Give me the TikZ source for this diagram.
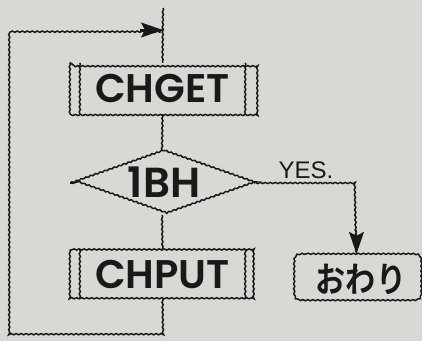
\documentclass[tikz,border=0pt]{standalone}
\usepackage{fontspec}
\setmainfont{Poppins SemiBold}
\newfontfamily\jpfont{Noto Sans CJK JP Bold}
\newfontfamily\yesfont{Liberation Sans}
\usetikzlibrary{decorations.pathmorphing,shapes.geometric,arrows.meta}
\definecolor{bgc}{RGB}{216,216,212}
\definecolor{ink}{RGB}{25,25,25}
\tikzset{
  ln/.style={draw=ink, line width=1.5pt, decorate, decoration={snake, amplitude=0.6pt, segment length=5pt}},
  proc/.style={inner sep=0pt, minimum width=185pt, minimum height=51pt, font=\fontsize{40}{40}\selectfont, text=ink},
  tip/.style={draw=ink, fill=ink, line width=1.3pt, -{Stealth[length=22pt,width=15pt,inset=4pt]}},
}
\begin{document}
\begin{tikzpicture}[x=1pt,y=-1pt]
\fill[bgc] (0,0) rectangle (422,341);
\useasboundingbox (0,0) rectangle (422,341);

\node[proc] (chget) at (162.5,88.5) {CHGET};
\node[shape=diamond, inner sep=0pt, minimum width=183pt, minimum height=64pt] (dec) at (162,183) {};
\node[font=\fontsize{42}{42}\selectfont, text=ink] (dtxt) at (164,182) {1BH};
\node[proc, minimum height=48pt] (chput) at (162.5,274) {CHPUT};
\node[inner sep=0pt, minimum width=127pt, minimum height=46pt, text=ink] (end) at (356.5,277) {};
\node[font=\jpfont\fontsize{35}{35}\selectfont, text=ink] (endtxt) at (361,279) {\scalebox{0.86}[1]{おわり}};
\node[font=\yesfont\fontsize{24}{24}\selectfont, text=ink] (yes) at (306,170) {YES.};

\coordinate (top) at (163,8);
\coordinate (join) at (163,30);
\coordinate (tl) at (8,30);
\coordinate (bl) at (8,333);
\coordinate (br) at (163,333);
\coordinate (rt) at (355,183);

% boxes
\draw[ln] (chget.north west) rectangle (chget.south east);
\draw[ln] ([xshift=10pt]chget.north west) -- ([xshift=10pt]chget.south west);
\draw[ln] ([xshift=-10pt]chget.north east) -- ([xshift=-10pt]chget.south east);
\draw[ln] (chput.north west) rectangle (chput.south east);
\draw[ln] ([xshift=10pt]chput.north west) -- ([xshift=10pt]chput.south west);
\draw[ln] ([xshift=-10pt]chput.north east) -- ([xshift=-10pt]chput.south east);
\draw[ln] (dec.west) -- (dec.north) -- (dec.east) -- (dec.south) -- cycle;
\draw[ln] ([xshift=14pt]end.north west) -- ([xshift=-14pt]end.north east)
  .. controls (end.north east) .. ([yshift=-14pt]end.north east)
  -- ([yshift=14pt]end.south east)
  .. controls (end.south east) .. ([xshift=-14pt]end.south east)
  -- ([xshift=14pt]end.south west)
  .. controls (end.south west) .. ([yshift=14pt]end.south west)
  -- ([yshift=-14pt]end.north west)
  .. controls (end.north west) .. ([xshift=14pt]end.north west);

% connectors
\draw[ln] (top) -- (chget.north);
\draw[ln] (chget.south) -- (dec.north);
\draw[ln] (dec.south) -- (chput.north);
\draw[ln] (chput.south) -- (br) -- (bl) -- (tl) -- (join);
\draw[tip] ([xshift=-23pt]join) -- (join);
\draw[ln] (dec.east) -- (rt) -- (end.north);
\draw[tip] ([yshift=24pt]end.north) -- (end.north);
\end{tikzpicture}
\end{document}
